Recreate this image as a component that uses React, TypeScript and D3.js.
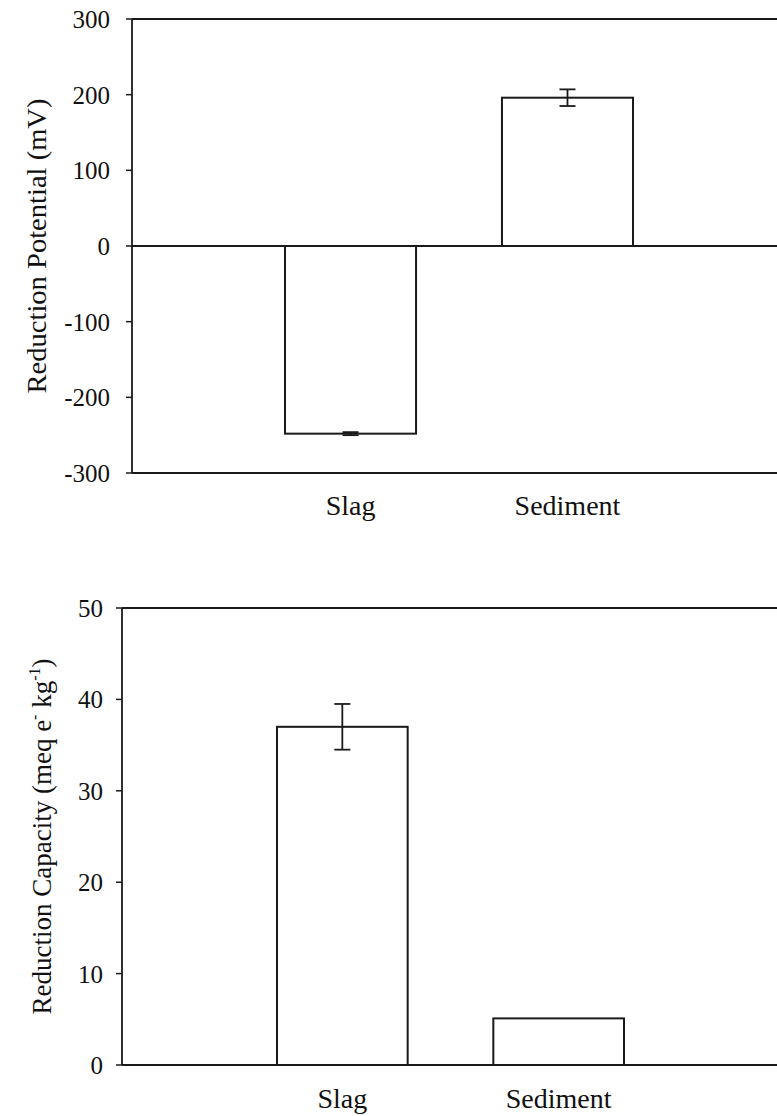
import React from "react";
import * as d3 from "d3";

const categories = ["Slag", "Sediment"];
const potentialValues = [-248, 196];
const potentialErrors = [2, 11];
const potentialTicks = [-300, -200, -100, 0, 100, 200, 300];
const capacityValues = [37, 5.1];
const capacityErrors = [2.5, 0];
const capacityTicks = [0, 10, 20, 30, 40, 50];

const W = 777;
const H = 1116;
const FF = "Liberation Serif";

type PanelProps = {
  axisX: number;
  top: number;
  bottom: number;
  domain: [number, number];
  ticks: number[];
  values: number[];
  errors: number[];
  bandStart: number;
  bandEnd: number;
  labelBaselineOffset: number;
  tickLabelGap: number;
  showZeroLine: boolean;
  yLabel: React.ReactNode;
  yLabelX: number;
};

function Panel(p: PanelProps) {
  const y = d3.scaleLinear().domain(p.domain).range([p.bottom, p.top]);
  const x = d3
    .scaleBand<string>()
    .domain(categories)
    .range([p.bandStart, p.bandEnd])
    .paddingInner(0.396)
    .paddingOuter(0);
  const stroke = "#1a1a1a";
  const y0 = y(0);
  const cap = 8;
  return (
    <g>
      <line x1={p.axisX} x2={W} y1={p.top} y2={p.top} stroke={stroke} strokeWidth={1.8} />
      <line x1={p.axisX} x2={W} y1={p.bottom} y2={p.bottom} stroke={stroke} strokeWidth={1.8} />
      {p.showZeroLine && (
        <line x1={p.axisX} x2={W} y1={y0} y2={y0} stroke={stroke} strokeWidth={1.8} />
      )}
      <line x1={p.axisX} x2={p.axisX} y1={p.top} y2={p.bottom} stroke={stroke} strokeWidth={1.8} />
      {p.ticks.map((t) => (
        <line key={"t" + t} x1={p.axisX - 6} x2={p.axisX} y1={y(t)} y2={y(t)} stroke={stroke} strokeWidth={1.5} />
      ))}
      {p.ticks.map((t) => (
        <text
          key={"l" + t}
          x={p.axisX - p.tickLabelGap}
          y={y(t) + 9}
          textAnchor="end"
          fontFamily={FF}
          fontSize={25}
          fill="#111"
        >
          {t < 0 ? "-" + Math.abs(t) : String(t)}
        </text>
      ))}
      {categories.map((c, i) => {
        const v = p.values[i];
        const bx = x(c) as number;
        const bw = x.bandwidth();
        const yTop = Math.min(y(v), y0);
        const hgt = Math.abs(y(v) - y0);
        const cx = bx + bw / 2;
        const e = p.errors[i];
        return (
          <g key={c}>
            <rect x={bx} y={yTop} width={bw} height={hgt} fill="none" stroke={stroke} strokeWidth={2} />
            {e > 0 && (
              <g stroke={stroke} strokeWidth={1.8}>
                <line x1={cx} x2={cx} y1={y(v + e)} y2={y(v - e)} />
                <line x1={cx - cap} x2={cx + cap} y1={y(v + e)} y2={y(v + e)} />
                <line x1={cx - cap} x2={cx + cap} y1={y(v - e)} y2={y(v - e)} />
              </g>
            )}
          </g>
        );
      })}
      {categories.map((c) => (
        <text
          key={"c" + c}
          x={(x(c) as number) + x.bandwidth() / 2}
          y={p.bottom + p.labelBaselineOffset}
          textAnchor="middle"
          fontFamily={FF}
          fontSize={28}
          fill="#111"
        >
          {c}
        </text>
      ))}
      <g transform={`translate(${p.yLabelX},${(p.top + p.bottom) / 2}) rotate(-90)`}>
        {p.yLabel}
      </g>
    </g>
  );
}

export default function App() {
  return (
    <svg width={W} height={H} fontFamily={FF} style={{ position: "absolute", left: 0, top: 0 }}>
      <Panel
        axisX={132}
        top={19}
        bottom={473}
        domain={[-300, 300]}
        ticks={potentialTicks}
        values={potentialValues}
        errors={potentialErrors}
        bandStart={285}
        bandEnd={633}
        labelBaselineOffset={42}
        tickLabelGap={22}
        showZeroLine={true}
        yLabelX={46}
        yLabel={
          <text
            textAnchor="middle"
            fontFamily={FF}
            fontSize={27}
            fill="#111"
            textLength={295}
            lengthAdjust="spacingAndGlyphs"
          >
            Reduction Potential (mV)
          </text>
        }
      />
      <Panel
        axisX={122}
        top={608}
        bottom={1065}
        domain={[0, 50]}
        ticks={capacityTicks}
        values={capacityValues}
        errors={capacityErrors}
        bandStart={277}
        bandEnd={624}
        labelBaselineOffset={43}
        tickLabelGap={19}
        showZeroLine={false}
        yLabelX={51}
        yLabel={
          <text textAnchor="middle" fontFamily={FF} fontSize={27} fill="#111">
            Reduction Capacity (meq e
            <tspan fontSize={16} dy={-11}>-</tspan>
            <tspan dy={11}> kg</tspan>
            <tspan fontSize={16} dy={-11}>-1</tspan>
            <tspan dy={11}>)</tspan>
          </text>
        }
      />
    </svg>
  );
}
